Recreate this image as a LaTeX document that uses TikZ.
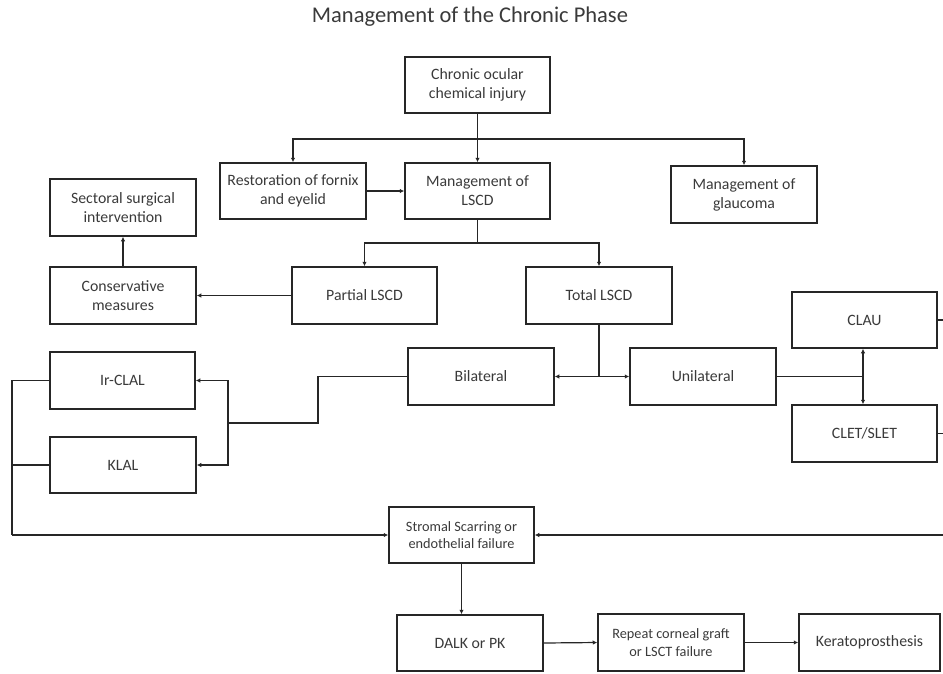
\documentclass[tikz,border=0pt]{standalone}
\usepackage{fontspec}
\setmainfont{Carlito}
\usetikzlibrary{arrows.meta,calc}
\definecolor{txtgray}{HTML}{3A3A3A}
\definecolor{linegray}{HTML}{262626}
\tikzset{
  box/.style={draw=linegray, line width=1.5pt, rectangle, align=center, inner sep=0pt,
    text=txtgray, font=\fontsize{15.8}{19}\selectfont},
  smallbox/.style={box, font=\fontsize{14.3}{17.5}\selectfont},
  conn/.style={draw=linegray, line width=1.2pt},
  arr/.style={conn, -{Latex[length=4.5pt,width=4.5pt]}},
  sz/.style 2 args={minimum width=#1pt, minimum height=#2pt}
}
\begin{document}
\begin{tikzpicture}[x=1pt,y=-1pt]
\useasboundingbox (0,0) rectangle (943,673);
\node[text=txtgray, font=\fontsize{22.5}{27}\selectfont] (title) at (470,17) {Management of the Chronic Phase};

\node[box, sz={145}{56}] (chronic) at (477.5,85) {Chronic ocular\\chemical injury};
\node[box, sz={146}{56}] (rest) at (293,191) {Restoration of fornix\\and eyelid};
\node[box, sz={145}{56}] (lscd) at (477.5,191) {Management of\\LSCD};
\node[box, sz={146}{57}] (glau) at (744,194.5) {Management of\\glaucoma};
\node[box, sz={146}{57}] (sect) at (123,207.5) {Sectoral surgical\\intervention};
\node[box, sz={146}{57}] (cons) at (123,295.5) {Conservative\\measures};
\node[box, sz={145}{57}] (part) at (364.5,295.5) {Partial LSCD};
\node[box, sz={146}{57}] (total) at (599,295.5) {Total LSCD};
\node[box, sz={146}{57}] (bil) at (481,376.5) {Bilateral};
\node[box, sz={146}{57}] (uni) at (703,376.5) {Unilateral};
\node[box, sz={145}{56}] (clau) at (864.5,320) {CLAU};
\node[box, sz={145}{57}] (clet) at (864.5,433.5) {CLET/SLET};
\node[box, sz={145}{57}] (irclal) at (122.5,380.5) {Ir-CLAL};
\node[box, sz={146}{56}] (klal) at (123,465) {KLAL};
\node[smallbox, sz={145}{56}] (strom) at (461.5,535) {Stromal Scarring or\\endothelial failure};
\node[box, sz={146}{56}] (dalk) at (470,643) {DALK or PK};
\node[smallbox, sz={146}{57}] (rep) at (671,642.5) {Repeat corneal graft\\or LSCT failure};
\node[box, sz={141}{57}] (kera) at (869.5,642.5) {Keratoprosthesis};

% top tree
\coordinate (j1) at (477.5,139);
\draw[arr] (chronic.south) -- (lscd.north);
\draw[arr] (j1) -| (rest.north);
\draw[arr] (j1) -| (glau.north);
\draw[arr] (rest.east) -- (lscd.west);

% LSCD split
\coordinate (j2) at (477.5,243);
\draw[conn] (lscd.south) -- (j2);
\draw[arr] (j2) -| (part.north);
\draw[arr] (j2) -| (total.north);
\draw[arr] (part.west) -- (cons.east);
\draw[arr] (cons.north) -- (sect.south);

% total split
\coordinate (j3) at (599,376.5);
\draw[conn] (total.south) -- (j3);
\draw[arr] (j3) -- (bil.east);
\draw[arr] (j3) -- (uni.west);

% unilateral
\coordinate (j4) at (863,376.5);
\draw[conn] (uni.east) -- (j4);
\draw[arr] (j4) -- (j4 |- clau.south);
\draw[arr] (j4) -- (j4 |- clet.north);
\coordinate (r1) at (943,320);
\coordinate (r2) at (943,433.5);
\draw[conn] (clau.east) -- (r1);
\draw[conn] (clet.east) -- (r2);

% bilateral
\coordinate (b1) at (318,376.5);
\coordinate (b2) at (318,423);
\coordinate (j5) at (228,423);
\draw[conn] (bil.west) -- (b1) -- (b2) -- (j5);
\draw[arr] (j5) |- (irclal.east);
\draw[arr] (j5) |- (klal.east);

% left loop to stromal
\coordinate (j6) at (12,535);
\draw[conn] (irclal.west) -| (j6);
\draw[conn] (klal.west) -- (klal.west -| j6);
\draw[arr] (j6) -- (strom.west);
\coordinate (re) at (943,535);
\draw[arr] (re) -- (strom.east);

% bottom chain
\draw[arr] (strom.south) -- (strom.south |- dalk.north);
\draw[arr] (dalk.east) -- (rep.west);
\draw[arr] (rep.east) -- (kera.west);
\end{tikzpicture}
\end{document}
